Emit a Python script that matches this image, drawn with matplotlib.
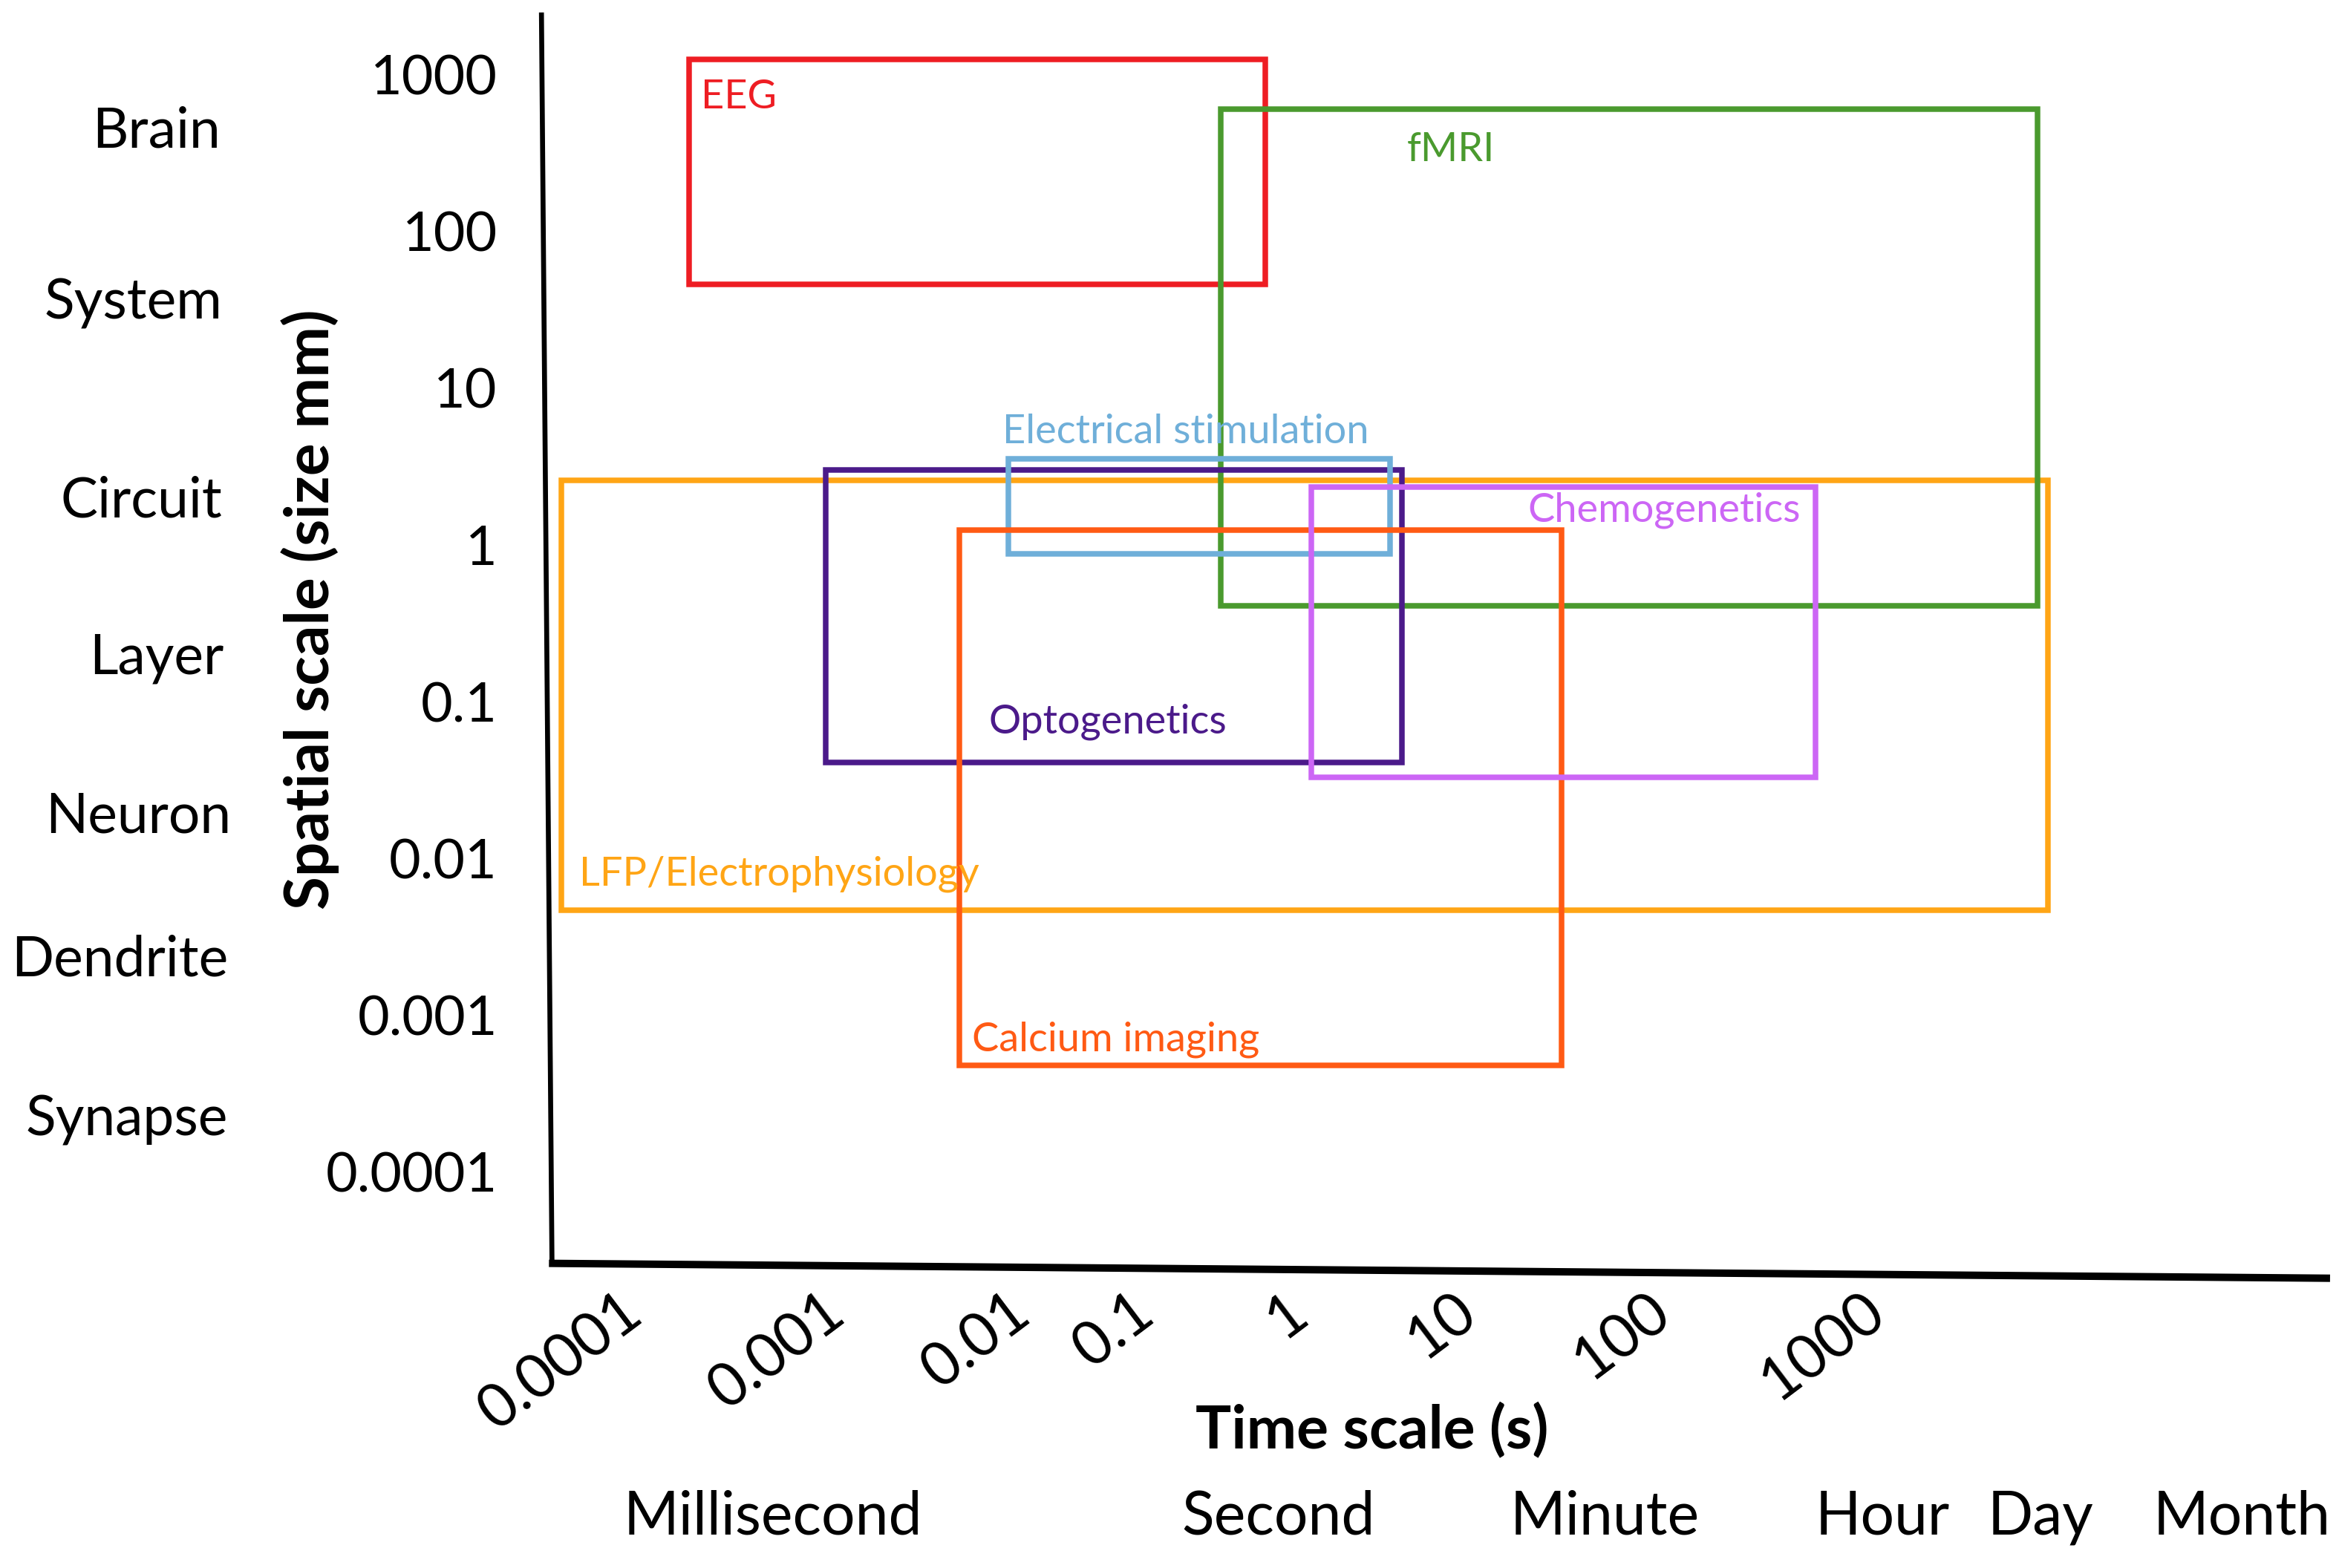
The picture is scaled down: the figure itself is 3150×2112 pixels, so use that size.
import numpy as np
import matplotlib
matplotlib.use('Agg')
import matplotlib.pyplot as plt
from matplotlib.patches import Rectangle
import matplotlib.transforms as mtransforms

plt.rcParams['font.family'] = ['Lato', 'DejaVu Sans']

# methods: time range (s) and spatial range (mm)
methods = ['LFP/Electrophysiology', 'EEG', 'fMRI', 'Optogenetics',
           'Electrical stimulation', 'Calcium imaging', 'Chemogenetics']
t_lo = [4.3e-5, 1.84e-4, 0.30, 8.7e-4, 0.0083, 0.0045, 1.15]
t_hi = [6200, 0.585, 5530, 4.0, 3.4, 30, 510]
s_lo = [0.0047, 46, 0.41, 0.041, 0.88, 0.00048, 0.033]
s_hi = [2.6, 1245, 600, 3.0, 3.56, 1.25, 2.35]
colors = ['#FFA515', '#EE1D23', '#4A9A2E', '#4B1A8A',
          '#6FAFD9', '#FF5A14', '#CC66F5']

# label anchors (left edge) for each box
lab_t = [5.3e-5, 2.1e-4, 4.25, 0.0065, 0.0077, 0.0053, 20]
lab_s = [0.008, 720, 334, 0.075, 5.3, 7.0e-4, 1.66]

y_ticks = [1000, 100, 10, 1, 0.1, 0.01, 0.001, 0.0001]
y_tick_labels = ['1000', '100', '10', '1', '0.1', '0.01', '0.001', '0.0001']
x_ticks = [0.0001, 0.001, 0.01, 0.1, 1, 10, 100, 1000]
x_tick_labels = ['0.0001', '0.001', '0.01', '0.1', '1', '10', '100', '1000']

levels = ['Brain', 'System', 'Circuit', 'Layer', 'Neuron', 'Dendrite', 'Synapse']
level_mm = [435, 35, 1.9, 0.19, 0.0185, 0.00225, 0.000215]
level_x = [148, 149, 149, 150, 155, 153, 153]

units = ['Millisecond', 'Second', 'Minute', 'Hour', 'Day', 'Month']
unit_x = [518, 857, 1076, 1262, 1368, 1503]

# hand-drawn time axis: decades are not evenly spaced
dec_exp = np.arange(-5, 7)
dec_pos = np.array([290, 426, 562, 686, 769, 872, 985, 1115, 1259, 1403, 1547, 1691])


def fwd(t):
    t = np.clip(np.asarray(t, dtype=float), 1e-12, None)
    return np.interp(np.log10(t), dec_exp, dec_pos)


def inv(p):
    return 10 ** np.interp(p, dec_pos, dec_exp)


W, H = 1568, 1050
fig = plt.figure(figsize=(15.75, 10.56), dpi=200)
ax = fig.add_axes([368 / W, 1 - 848 / H, 1194 / W, 838 / H])
ax.set_xscale('function', functions=(fwd, inv))
ax.set_yscale('log')
ax.set_xlim(inv(368), inv(1562))
ax.set_ylim(10 ** -4.6, 10 ** 3.381)
for sp in ax.spines.values():
    sp.set_visible(False)

for i in range(len(methods)):
    r = Rectangle((t_lo[i], s_lo[i]), t_hi[i] - t_lo[i], s_hi[i] - s_lo[i],
                  fill=False, edgecolor=colors[i], lw=2.7)
    ax.add_patch(r)
    ax.text(lab_t[i], lab_s[i], methods[i], color=colors[i], fontsize=19.5,
            ha='left', va='center')

ax.set_yticks(y_ticks, y_tick_labels)
ax.minorticks_off()
ax.tick_params(axis='y', length=0, pad=25, labelsize=26.5)
ax.set_xticks(x_ticks, x_tick_labels)
ax.tick_params(axis='x', length=0, pad=19, labelsize=29)
for lab in ax.get_xticklabels():
    lab.set_rotation(37)
    lab.set_ha('right')
    lab.set_va('center')
    lab.set_rotation_mode('anchor')

# axis lines (slightly tilted, as drawn)
ax.plot([-0.0042, 0.0017], [1.0, 0.0036], color='black', lw=2.4,
        transform=ax.transAxes, clip_on=False)
ax.plot([0.0, 1.0], [0.0024, -0.0095], color='black', lw=3.6,
        transform=ax.transAxes, clip_on=False, solid_capstyle='butt')

trans = mtransforms.blended_transform_factory(fig.transFigure, ax.transData)
for name, v, x in zip(levels, level_mm, level_x):
    ax.text(x / W, v, name, transform=trans, ha='right', va='center',
            fontsize=27)

fig.text(208 / W, 1 - 408 / H, 'Spatial scale (size mm)', rotation=90,
         ha='center', va='center', fontsize=29.5, fontweight='bold')
fig.text(920 / W, 1 - 958 / H, 'Time scale (s)', ha='center', va='center',
         fontsize=29, fontweight='bold')
for name, x in zip(units, unit_x):
    fig.text(x / W, 1 - 1016 / H, name, ha='center', va='center', fontsize=29)

fig.savefig('out.png', dpi=200, facecolor='white')
